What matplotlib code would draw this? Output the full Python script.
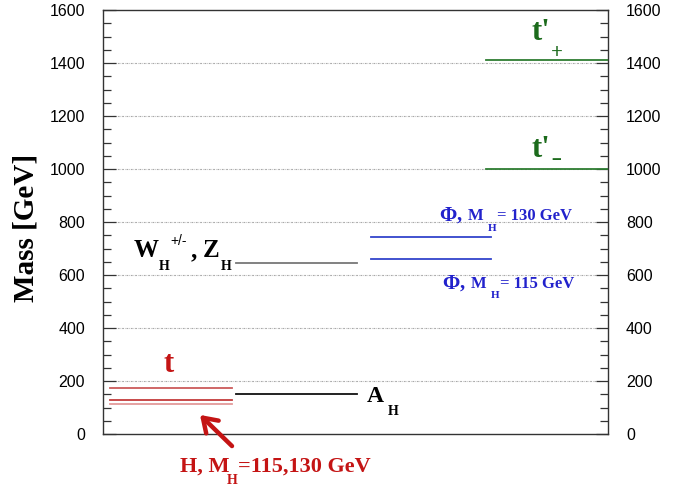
import matplotlib
matplotlib.use("Agg")
import matplotlib.pyplot as plt
from matplotlib.ticker import MultipleLocator

# ---- data ----
level_names = ["t", "H130", "H115", "A_H", "W_H", "Phi130", "Phi115", "t'+", "t'-"]
level_masses = [175, 130, 115, 150, 645, 745, 660, 1410, 1000]
level_colors = ["#cc5b5b", "#c43c3c", "#e39a9a", "#111111", "#777777",
                "#3344cc", "#3344cc", "#2e7d32", "#2e7d32"]
level_xmin = [0.014, 0.014, 0.014, 0.263, 0.263, 0.531, 0.531, 0.758, 0.758]
level_xmax = [0.255, 0.255, 0.255, 0.503, 0.503, 0.768, 0.768, 1.0, 1.0]
grid_values = [200, 400, 600, 800, 1000, 1200, 1400]
y_ticks = [0, 200, 400, 600, 800, 1000, 1200, 1400, 1600]

W, H = 684, 486
fig = plt.figure(figsize=(W / 100, H / 100), dpi=100)
ax = fig.add_axes([103 / W, 1 - 434 / H, 505 / W, 424 / H])
ax.set_xlim(0, 1)
ax.set_ylim(0, 1600)
ax.set_xticks([])
ax.set_yticks(y_ticks)
ax.yaxis.set_minor_locator(MultipleLocator(50))
ax.tick_params(axis="y", which="both", direction="in", left=True, right=True,
               labelleft=True, labelright=True, labelsize=11.5, pad=13,
               color="#333333")
ax.tick_params(axis="y", which="major", length=9, width=0.9)
ax.tick_params(axis="y", which="minor", length=6, width=0.9)
for lab in ax.get_yticklabels():
    lab.set_family("Liberation Sans")
for sp in ax.spines.values():
    sp.set_linewidth(1.0)
    sp.set_color("#333333")

for g in grid_values:
    ax.axhline(g, xmin=0.02, xmax=0.984, color="#a8a8a8", lw=0.8,
               dashes=(1.6, 0.9, 0.5, 0.9), zorder=1)

for m, c, x0, x1 in zip(level_masses, level_colors, level_xmin, level_xmax):
    ax.axhline(m, xmin=x0, xmax=x1, color=c, lw=1.3, zorder=3)

fig.text(26 / W, 1 - 228 / H, "Mass [GeV]", family="Liberation Serif",
         fontweight="bold", fontsize=21, rotation=90, ha="center", va="center")


def T(x, y, s, size, color, weight="bold", family="Liberation Serif", **kw):
    fig.text(x / W, 1 - y / H, s, fontsize=size, color=color,
             fontweight=weight, family=family, va="baseline", ha="left", **kw)


red = "#c41414"
blue = "#2222cc"
green = "#1c6b1c"

# t
T(163, 372, "t", 22, red)
# H label
T(180, 472, "H, M", 16, red)
T(227, 484, "H", 10, red)
T(238, 472, "=115,130 GeV", 16, red)
fig.patches.append(matplotlib.patches.FancyArrowPatch(
    (234 / W, 1 - 448 / H), (198 / W, 1 - 413 / H), transform=fig.transFigure,
    arrowstyle="->,head_length=6,head_width=4", color=red, lw=3.2,
    mutation_scale=1.6, figure=fig))

# A_H
T(367, 402, "A", 17, "black")
T(388, 415, "H", 10, "black")

# W_H, Z_H
T(134, 257, "W", 18, "black")
T(159, 270, "H", 10, "black")
T(170, 245, "+/-", 10, "black", weight="normal", family="Liberation Sans")
T(191, 257, ",", 18, "black")
T(203, 257, "Z", 18, "black")
T(221, 270, "H", 10, "black")

# Phi labels
T(439, 221, "Φ", 15, blue)
T(457, 220, ",", 15, blue)
T(468, 220, "M", 12, blue)
T(488, 231, "H", 8, blue)
T(497, 220, "= 130 GeV", 12, blue)

T(442, 289, "Φ", 15, blue)
T(460, 288, ",", 15, blue)
T(471, 288, "M", 12, blue)
T(491, 298, "H", 8, blue)
T(500, 288, "= 115 GeV", 12, blue)

# t' labels
T(532, 40, "t'", 22, green)
T(551, 58, "+", 15, green)
T(532, 157, "t'", 22, green)
fig.text(556 / W, 1 - 161 / H, "\u2212", fontsize=12, color=green,
         fontweight="bold", family="Liberation Sans", ha="center", va="center")

fig.savefig("out.png", dpi=100)
